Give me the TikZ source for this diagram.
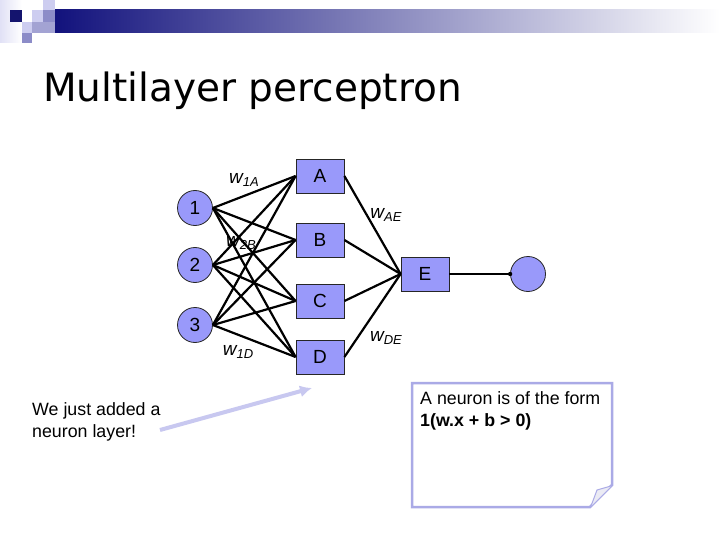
\documentclass[tikz,border=0pt]{standalone}
\usepackage{fontspec}
\setmainfont{Liberation Sans}
\newfontfamily\titlefont{DejaVu Sans}
\usetikzlibrary{arrows.meta}
\definecolor{nfill}{RGB}{153,153,250}
\definecolor{navy}{RGB}{20,20,110}
\definecolor{lav}{RGB}{170,170,230}
\definecolor{palelav}{RGB}{205,205,240}
\definecolor{midlav}{RGB}{140,140,200}
\definecolor{arrowlav}{RGB}{200,200,240}
\tikzset{
  neuron/.style={circle,draw=black!85,fill=nfill,line width=0.8pt,minimum size=35pt,inner sep=0pt,font=\fontsize{19}{19}\selectfont},
  hidbox/.style={rectangle,draw=black!85,fill=nfill,line width=0.8pt,minimum width=48pt,minimum height=34pt,inner sep=0pt,font=\fontsize{19}{19}\selectfont},
  conn/.style={line width=2.2pt,black},
  wlab/.style={font=\fontsize{19}{19}\selectfont\itshape,inner sep=0pt},
  txt/.style={font=\fontsize{17.8}{22}\selectfont,align=left,inner sep=0pt}
}
\newcommand{\wsub}[1]{w\raisebox{-3pt}{\fontsize{13}{13}\selectfont #1}}
\begin{document}
\begin{tikzpicture}[x=1pt,y=-1pt]
\useasboundingbox (0,0) rectangle (720,540);
\fill[white] (0,0) rectangle (720,540);
% header decoration
\shade[left color=palelav!60,right color=white] (0,0) rectangle (22,43);
\fill[left color=navy!90!blue,right color=white,shading=axis,shading angle=90] (55,10) rectangle (720,33);
\fill[navy] (10,10) rectangle (22,22);
\fill[palelav] (43,0) rectangle (55,10);
\fill[palelav] (32,10) rectangle (43,22);
\fill[midlav] (43,10) rectangle (55,22);
\fill[palelav] (22,22) rectangle (32,33);
\fill[midlav!80] (32,22) rectangle (55,33);
\fill[midlav] (22,33) rectangle (32,43);
% title
\node[anchor=base west,inner sep=0pt,font=\titlefont\fontsize{39}{39}\selectfont] (title) at (43,102) {Multilayer perceptron};
% nodes
\node[neuron] (n1) at (195,208) {1};
\node[neuron] (n2) at (195,265) {2};
\node[neuron] (n3) at (195,325) {3};
\node[hidbox] (A) at (320,176) {A};
\node[hidbox] (B) at (320,240) {B};
\node[hidbox] (C) at (320,301) {C};
\node[hidbox] (D) at (320,357) {D};
\node[hidbox] (E) at (425,274) {E};
\node[neuron] (out) at (528,274) {};
% connectors
\foreach \i in {n1,n2,n3}{
  \foreach \h in {A,B,C,D}{
    \draw[conn] (\i.east) -- (\h.west);
  }
}
\foreach \h in {A,B,C,D}{
  \draw[conn] (\h.east) -- (E.west);
}
\draw[conn] (E.east) -- (out.west);
\fill (out.west) circle (2.2pt);
% weight labels
\node[wlab] (w1a) at (244,180) {\wsub{1A}};
\node[wlab] (w2b) at (241,243) {\wsub{2B}};
\node[wlab] (w1d) at (238,352) {\wsub{1D}};
\node[wlab] (wae) at (386,215) {\wsub{AE}};
\node[wlab] (wde) at (386,338) {\wsub{DE}};
% left note
\node[txt,anchor=north west] (left) at (32,402) {We just added a\\neuron layer!};
\coordinate (arrs) at (160,430);
\coordinate (arre) at (312,388);
\draw[arrowlav,line width=4pt,-{Latex[length=12pt,width=12pt]}] (arrs) -- (arre);
% note box
\draw[lav,line width=2.5pt,fill=white] (412,383) -- (612,383) -- (612,485) -- (590,507) -- (412,507) -- cycle;
\fill[palelav!80!gray!30] (591,506) -- (597,490) -- (611,486) -- cycle;
\draw[lav,line width=1pt] (591,506) -- (597,490) -- (611,486);
\node[txt,anchor=north west] (note) at (420,391) {A neuron is of the form\\\textbf{1(w.x + b > 0)}};
\end{tikzpicture}
\end{document}
